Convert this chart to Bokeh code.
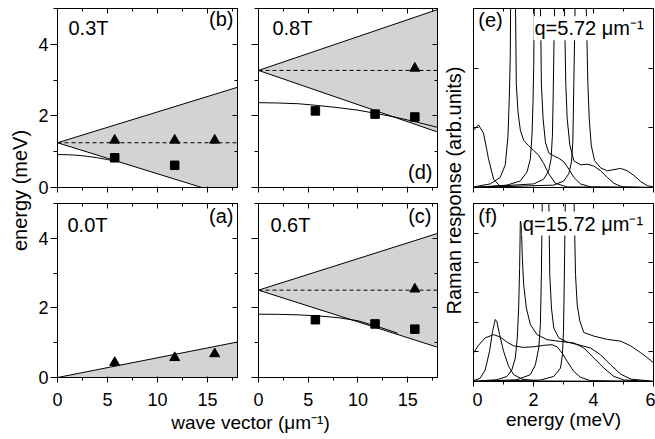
import math
from bokeh.plotting import figure
from bokeh.layouts import row, column
from bokeh.models import Range1d, LinearAxis, SingleIntervalTicker, Label
from bokeh.embed import file_html
from bokeh.resources import INLINE

FONT = "Liberation Sans"
SHADE = "#d3d3d3"

# ---------------- data: dispersion panels (q in 1/um, energy in meV) ----------------
q_edge = [0, 18]

# (b) 0.3 T
b_upper = [1.25, 2.80]
b_lower = [1.25, -0.31]
b_dash = [1.25, 1.25]
b_curve_q = [0, 1, 2, 3, 4, 5, 6]
b_curve_e = [0.92, 0.915, 0.90, 0.87, 0.83, 0.78, 0.73]
b_tri_q = [5.72, 11.72, 15.72]
b_tri_e = [1.32, 1.32, 1.32]
b_sq_q = [5.72, 11.72]
b_sq_e = [0.83, 0.62]

# (d) 0.8 T
d_upper = [3.27, 4.97]
d_lower = [3.27, 1.55]
d_dash = [3.27, 3.27]
d_curve_q = [0, 2, 4, 6, 8, 10, 12, 14, 16, 18]
d_curve_e = [2.37, 2.36, 2.34, 2.29, 2.23, 2.16, 2.06, 1.95, 1.82, 1.68]
d_tri_q = [15.72]
d_tri_e = [3.33]
d_sq_q = [5.72, 11.72, 15.72]
d_sq_e = [2.14, 2.05, 1.97]

# (a) 0.0 T
a_upper = [0.0, 1.02]
a_lower = [0.0, 0.0]
a_tri_q = [5.72, 11.72, 15.72]
a_tri_e = [0.43, 0.57, 0.68]

# (c) 0.6 T
c_upper = [2.51, 4.14]
c_lower = [2.51, 0.87]
c_dash = [2.51, 2.51]
c_curve_q = [0, 2, 4, 6, 8, 10, 12, 13, 14]
c_curve_e = [1.82, 1.815, 1.80, 1.77, 1.72, 1.63, 1.46, 1.37, 1.27]
c_tri_q = [15.72]
c_tri_e = [2.54]
c_sq_q = [5.72, 11.72, 15.72]
c_sq_e = [1.66, 1.54, 1.39]

# ---------------- data: Raman spectra (energy meV, response arb.units) ----------------
# (e) q = 5.72
e1_x = [0, 0.167, 0.334, 0.50, 0.67, 0.89, 1.67, 6.0]
e1_y = [0.96, 1.05, 0.91, 0.48, 0.14, 0.02, 0.0, 0.0]
e2_x = [0, 0.557, 0.892, 1.059, 1.148, 1.193, 1.226, 1.30, 1.427, 1.483, 1.561, 1.672, 1.839, 2.007, 2.174, 2.341, 2.508, 2.731, 3.122, 6.0]
e2_y = [0.01, 0.06, 0.17, 0.38, 0.85, 1.50, 2.20, 8.0, 1.73, 1.27, 0.96, 0.79, 0.70, 0.62, 0.54, 0.40, 0.23, 0.07, 0.01, 0.0]
e3_x = [0, 1.115, 1.561, 1.784, 1.895, 1.951, 1.984, 2.007, 2.118, 2.263, 2.319, 2.397, 2.508, 2.676, 2.843, 3.01, 3.177, 3.344, 3.567, 3.902, 6.0]
e3_y = [0.0, 0.04, 0.11, 0.26, 0.48, 0.88, 1.44, 2.01, 8.0, 1.73, 1.16, 0.76, 0.58, 0.53, 0.49, 0.43, 0.31, 0.17, 0.06, 0.01, 0.0]
e4_x = [0, 2.007, 2.341, 2.508, 2.586, 2.631, 2.653, 2.854, 3.077, 3.122, 3.211, 3.344, 3.567, 3.79, 4.013, 4.236, 4.459, 4.682, 4.961, 6.0]
e4_y = [0.0, 0.06, 0.14, 0.28, 0.48, 0.88, 1.44, 8.0, 1.73, 1.16, 0.71, 0.45, 0.38, 0.39, 0.36, 0.28, 0.17, 0.07, 0.01, 0.0]
e5_x = [0, 2.676, 3.01, 3.177, 3.266, 3.311, 3.344, 3.545, 3.813, 3.857, 3.924, 4.036, 4.236, 4.459, 4.682, 4.905, 5.128, 5.351, 5.574, 5.797, 6.0]
e5_y = [0.0, 0.04, 0.11, 0.23, 0.43, 0.76, 1.73, 8.0, 1.73, 1.16, 0.71, 0.45, 0.33, 0.28, 0.30, 0.32, 0.28, 0.20, 0.10, 0.03, 0.01]

# (f) q = 15.72
f1_x = [0, 0.223, 0.39, 0.535, 0.635, 0.725, 0.78, 0.87, 1.003, 1.171, 1.338, 1.617, 2.118, 6.0]
f1_y = [0.03, 0.11, 0.39, 1.02, 1.69, 2.09, 2.01, 1.58, 1.02, 0.51, 0.23, 0.08, 0.02, 0.0]
f2_x = [0, 0.167, 0.39, 0.669, 0.892, 1.115, 1.338, 1.672, 2.007, 2.341, 2.62, 2.787, 2.954, 3.122, 3.344, 3.567, 3.902, 6.0]
f2_y = [0.96, 1.22, 1.47, 1.58, 1.50, 1.33, 1.20, 1.15, 1.17, 1.22, 1.24, 1.17, 0.96, 0.68, 0.34, 0.14, 0.03, 0.0]
f3_x = [0, 0.78, 1.115, 1.282, 1.394, 1.46, 1.505, 1.538, 1.561, 1.594, 1.628, 1.672, 1.761, 1.895, 2.118, 2.453, 2.899, 3.344, 3.679, 4.013, 4.348, 4.682, 5.017, 6.0]
f3_y = [0.01, 0.06, 0.17, 0.40, 0.79, 1.47, 2.48, 3.84, 5.41, 5.30, 4.17, 3.27, 2.48, 1.92, 1.58, 1.41, 1.35, 1.30, 1.13, 0.79, 0.45, 0.17, 0.05, 0.0]
f4_x = [0, 1.449, 1.895, 2.062, 2.174, 2.23, 2.263, 2.40, 2.542, 2.598, 2.676, 2.843, 3.122, 3.567, 3.902, 4.236, 4.571, 4.905, 5.24, 6.0]
f4_y = [0.0, 0.06, 0.23, 0.56, 1.13, 1.92, 3.61, 15.0, 3.61, 2.48, 1.80, 1.47, 1.33, 1.22, 1.13, 0.90, 0.56, 0.25, 0.08, 0.01]
f5_x = [0, 2.23, 2.676, 2.899, 2.965, 2.999, 3.021, 3.18, 3.40, 3.456, 3.545, 3.679, 4.013, 4.459, 4.905, 5.24, 5.574, 5.797, 6.0]
f5_y = [0.0, 0.05, 0.17, 0.45, 0.90, 1.69, 3.05, 15.0, 3.61, 2.59, 2.03, 1.65, 1.53, 1.42, 1.36, 1.20, 0.97, 0.80, 0.63]


def style_axis(ax, labels, mj_in, mj_out, mn_in, mn_out):
    ax.axis_line_color = "black"
    ax.axis_line_width = 1
    ax.major_tick_line_color = "black"
    ax.minor_tick_line_color = "black"
    ax.major_tick_in = mj_in
    ax.major_tick_out = mj_out
    ax.minor_tick_in = mn_in
    ax.minor_tick_out = mn_out
    if labels:
        ax.major_label_text_font = FONT
        ax.major_label_text_font_size = "18px"
        ax.major_label_text_color = "black"
    else:
        ax.major_label_text_font_size = "0px"
        ax.major_label_text_color = None
        ax.major_label_standoff = 0


def make_panel(width, height, xr, yr, bl, br, bt, bb, xint, xminor, yint, yminor,
               xlabels, ylabels, left_out=True, xstandoff=10):
    p = figure(width=width, height=height, x_range=Range1d(*xr), y_range=Range1d(*yr),
               output_backend="svg", toolbar_location=None,
               min_border_left=bl, min_border_right=br, min_border_top=bt, min_border_bottom=bb,
               x_axis_location=None, y_axis_location=None)
    p.grid.visible = False
    p.outline_line_color = "black"
    p.outline_line_width = 1
    p.background_fill_color = "white"
    p.border_fill_color = "white"

    bx = LinearAxis(ticker=SingleIntervalTicker(interval=xint, num_minor_ticks=xminor))
    style_axis(bx, xlabels, 1, 5, 0, 3)
    if xlabels:
        bx.major_label_standoff = xstandoff
    p.add_layout(bx, "below")
    tx = LinearAxis(ticker=SingleIntervalTicker(interval=xint, num_minor_ticks=xminor))
    style_axis(tx, False, 5, 0, 3, 0)
    p.add_layout(tx, "above")

    ly = LinearAxis(ticker=SingleIntervalTicker(interval=yint, num_minor_ticks=yminor))
    if left_out:
        style_axis(ly, ylabels, 0, 7, 0, 4)
    else:
        style_axis(ly, False, 5, 0, 3, 0)
    if ylabels:
        ly.major_label_standoff = 2
    p.add_layout(ly, "left")
    ry = LinearAxis(ticker=SingleIntervalTicker(interval=yint, num_minor_ticks=yminor))
    style_axis(ry, False, 5, 0, 3, 0)
    p.add_layout(ry, "right")
    return p


LIFT = 9  # screen px correction for the label baseline


def add_text(p, x, y, text, align="left", size="20px", bg=None):
    lab = Label(x=x, y=y, y_offset=LIFT, text=text, text_font=FONT, text_font_size=size,
                text_align=align, text_baseline="alphabetic", text_color="black")
    if bg is not None:
        lab.background_fill_color = bg
        lab.padding = 1
    p.add_layout(lab)


def dispersion(p, upper, lower, dash=None, curve=None, tri=None, sq=None):
    p.varea(x=q_edge, y1=lower, y2=upper, fill_color=SHADE)
    p.line(q_edge, upper, line_color="black", line_width=1)
    p.line(q_edge, lower, line_color="black", line_width=1)
    if dash is not None:
        p.line(q_edge, dash, line_color="black", line_width=1, line_dash="4 3")
    if curve is not None:
        p.line(curve[0], curve[1], line_color="black", line_width=1)
    if tri is not None:
        p.scatter(tri[0], tri[1], marker="triangle", size=10, fill_color="black", line_color="black")
    if sq is not None:
        p.scatter(sq[0], sq[1], marker="square", size=8.5, fill_color="black", line_color="black")


# ---------------- panels (page pixel geometry) ----------------
FW1, FW2, FW3 = 180, 179, 180
FH1, FH2 = 179, 178
SL, SM = 34, 34          # label strips
BL1, BL2, BL3 = 23, 20, 1
TOP = 8
GAP = 16                 # between rows
BB = 27                  # below bottom row (tick labels)
H_ALL = 439

pB = make_panel(BL1 + FW1 + 1, TOP + FH1 + GAP, (0, 18), (0, 5), BL1, 1, TOP, GAP, 5, 2, 2, 2, False, True)
dispersion(pB, b_upper, b_lower, b_dash, (b_curve_q, b_curve_e), (b_tri_q, b_tri_e), (b_sq_q, b_sq_e))
add_text(pB, 1.1, 4.2, "0.3T")
add_text(pB, 17.6, 4.45, "(b)", align="right")

pA = make_panel(BL1 + FW1 + 1, FH2 + BB, (0, 18), (0, 5), BL1, 1, 0, BB, 5, 2, 2, 2, True, True)
dispersion(pA, a_upper, a_lower, None, None, (a_tri_q, a_tri_e), None)
add_text(pA, 1.0, 4.13, "0.0T")
add_text(pA, 17.6, 4.39, "(a)", align="right")

pD = make_panel(BL2 + FW2 + 1, TOP + FH1 + GAP, (0, 18), (0, 5), BL2, 1, TOP, GAP, 5, 2, 2, 2, False, False)
dispersion(pD, d_upper, d_lower, d_dash, (d_curve_q, d_curve_e), (d_tri_q, d_tri_e), (d_sq_q, d_sq_e))
add_text(pD, 1.4, 4.2, "0.8T")
add_text(pD, 17.5, 0.17, "(d)", align="right")

pC = make_panel(BL2 + FW2 + 1, FH2 + BB, (0, 18), (0, 5), BL2, 1, 0, BB, 5, 2, 2, 2, True, False)
dispersion(pC, c_upper, c_lower, c_dash, (c_curve_q, c_curve_e), (c_tri_q, c_tri_e), (c_sq_q, c_sq_e))
add_text(pC, 1.2, 4.13, "0.6T")
add_text(pC, 17.4, 4.39, "(c)", align="right")

pE = make_panel(BL3 + FW3 + 2, TOP + FH1 + GAP, (0, 6), (0, 3), BL3, 2, TOP, GAP, 2, 2, 1, 1, False, False, left_out=False)
for xs, ys in [(e1_x, e1_y), (e2_x, e2_y), (e3_x, e3_y), (e4_x, e4_y), (e5_x, e5_y)]:
    pE.line(xs, ys, line_color="black", line_width=1)
add_text(pE, 0.16, 2.66, "(e)")
add_text(pE, 2.0, 2.52, "q=5.72 μm⁻¹", bg="white")

pF = make_panel(BL3 + FW3 + 2, H_ALL - (TOP + FH1 + GAP), (0, 6), (0, 6), BL3, 2, 0,
                H_ALL - (TOP + FH1 + GAP) - FH2, 2, 2, 1, 1, True, False, left_out=False, xstandoff=6)
for xs, ys in [(f1_x, f1_y), (f2_x, f2_y), (f3_x, f3_y), (f4_x, f4_y), (f5_x, f5_y)]:
    pF.line(xs, ys, line_color="black", line_width=1)
add_text(pF, 0.16, 5.26, "(f)")
add_text(pF, 1.61, 5.02, "q=15.72 μm⁻¹", bg="white")
xlab = pF.below[0]
xlab.axis_label = "energy (meV)"
xlab.axis_label_text_font = FONT
xlab.axis_label_text_font_size = "19px"
xlab.axis_label_text_font_style = "normal"
xlab.axis_label_text_color = "black"
xlab.axis_label_standoff = 0


def strip(w, h):
    s = figure(width=w, height=h, x_range=Range1d(0, w), y_range=Range1d(0, h),
               output_backend="svg", toolbar_location=None,
               min_border_left=0, min_border_right=0, min_border_top=0, min_border_bottom=0,
               x_axis_location=None, y_axis_location=None)
    s.outline_line_color = None
    s.grid.visible = False
    s.background_fill_color = "white"
    s.border_fill_color = "white"
    return s


sL = strip(SL, H_ALL)
sL.add_layout(Label(x=28 - LIFT, y=H_ALL - 190, text="energy (meV)", angle=math.pi / 2,
                    text_align="center", text_baseline="alphabetic",
                    text_font=FONT, text_font_size="20px", text_color="black"))

sM = strip(SM, H_ALL)
sM.add_layout(Label(x=24 - LIFT, y=H_ALL - 190, text="Raman response (arb.units)", angle=math.pi / 2,
                    text_align="center", text_baseline="alphabetic",
                    text_font=FONT, text_font_size="20px", text_color="black"))

SB_H = H_ALL - (TOP + FH1 + GAP) - (FH2 + BB)
sB = strip(pB.width + pD.width, SB_H)
sB.add_layout(Label(x=250 - SL, y=8 + LIFT, text="wave vector (μm⁻¹)",
                    text_align="center", text_baseline="alphabetic",
                    text_font=FONT, text_font_size="19px", text_color="black"))

left_block = column(row(column(pB, pA), column(pD, pC)), sB)
layout = row(sL, left_block, sM, column(pE, pF))

open("out.html", "w").write(file_html(layout, INLINE, "plot"))
